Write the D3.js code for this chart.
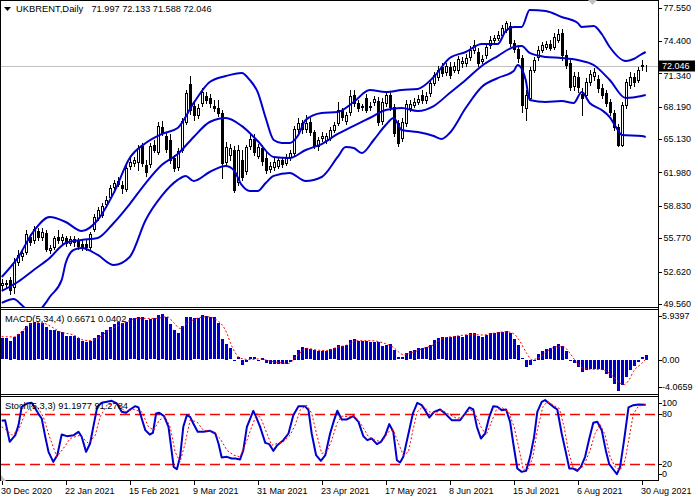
<!DOCTYPE html>
<html><head><meta charset="utf-8">
<script src="https://cdn.jsdelivr.net/npm/d3@7"></script>
<style>body{margin:0;background:#fff}svg{display:block}text{font-family:"Liberation Sans",Arial,sans-serif;fill:#000}</style>
</head><body>
<script>
// ---------- DATA ----------
const open = [51.36,51.45,51.83,51.17,53.53,54.09,54.47,55.89,55.60,56.45,
55.89,56.26,54.66,54.94,55.89,55.60,55.79,55.32,55.70,55.51,
55.23,55.23,54.94,56.64,57.68,57.96,59.00,59.66,60.61,60.89,
60.80,60.42,62.59,62.87,62.97,64.48,62.68,62.78,64.57,63.91,
66.27,65.42,65.04,63.34,62.49,64.10,66.74,70.33,68.25,67.40,
68.54,69.20,69.01,68.25,68.06,67.59,62.97,63.63,64.10,61.08,
63.15,62.12,64.48,65.14,63.53,64.29,63.34,62.31,62.49,62.59,
63.15,62.87,63.44,63.81,66.08,66.65,66.08,66.74,65.80,64.48,
65.23,65.04,65.23,65.99,66.65,67.87,66.84,67.69,69.29,68.54,
68.16,69.01,68.16,68.63,68.72,66.84,68.54,69.29,68.16,66.65,
65.23,66.65,68.06,68.35,68.63,69.29,68.82,69.48,70.42,70.99,
71.93,71.46,71.93,71.65,71.65,72.31,72.31,72.88,73.54,73.35,
72.50,73.07,74.01,74.48,74.67,74.95,75.43,75.80,74.20,73.63,
72.78,68.06,69.01,71.65,72.88,73.54,73.82,74.10,73.82,74.48,
75.14,73.07,72.31,70.14,70.99,69.39,69.29,70.52,71.08,70.80,
69.95,69.48,68.63,67.59,66.27,64.57,68.35,70.24,70.99,70.71,
72.03,71.997];
const high = [51.92,51.83,52.11,53.91,54.66,54.66,56.55,56.17,56.93,56.74,
56.74,56.55,55.13,55.98,56.55,56.17,55.98,55.98,55.98,55.79,
55.60,55.60,56.36,58.06,58.72,59.10,59.76,60.80,61.27,61.55,
61.17,62.68,63.34,63.44,64.57,64.76,63.15,64.76,65.04,66.74,
66.84,65.80,65.61,63.63,64.29,67.12,69.76,71.08,68.63,68.44,
69.95,69.57,69.39,68.82,68.82,67.87,64.85,64.66,64.48,64.57,
64.10,64.57,65.52,65.61,64.66,64.57,63.91,62.97,63.34,63.44,
63.44,63.72,64.10,66.37,67.12,66.93,67.40,67.12,65.99,65.33,
65.80,65.70,66.27,66.74,68.63,68.06,67.69,69.76,69.76,68.82,
68.44,69.39,68.63,69.20,69.10,69.01,69.57,69.57,68.44,66.93,
67.12,68.82,68.82,69.01,69.29,69.76,69.57,70.71,71.46,72.03,
72.31,72.31,72.41,72.41,72.97,72.88,73.16,73.92,74.48,73.73,
73.07,74.10,74.86,74.95,75.33,75.90,76.28,76.18,74.48,74.01,
73.07,69.76,71.93,72.88,73.92,74.29,74.39,74.48,75.14,75.52,
75.52,73.54,72.59,71.46,71.46,69.95,70.89,71.65,71.84,71.18,
70.33,69.76,68.91,67.87,66.55,68.63,70.80,71.46,71.37,71.93,
72.59,72.133];
const low = [50.89,51.08,50.51,50.60,53.25,53.72,54.28,55.13,55.32,55.60,
55.60,54.57,54.38,54.76,55.32,55.32,55.04,55.13,55.04,54.76,
54.66,54.66,54.76,56.45,57.49,57.77,58.72,59.47,60.32,60.70,
60.04,60.23,62.31,62.59,62.21,62.59,61.65,62.49,63.91,63.72,
65.52,63.91,62.87,62.12,62.21,63.91,66.55,67.50,66.93,67.12,
68.25,68.54,68.16,67.78,67.31,61.46,62.68,63.15,60.13,60.80,
61.27,61.83,64.19,63.63,63.34,62.68,61.93,62.02,62.21,62.40,
62.49,62.68,63.15,63.63,65.80,65.70,65.80,65.52,64.29,64.10,
64.95,64.76,65.04,65.80,66.46,66.93,66.55,67.40,68.25,67.78,
67.87,67.69,67.87,68.35,66.46,66.55,68.25,67.87,65.42,64.48,
64.95,66.37,67.78,68.16,68.44,68.54,68.54,69.20,70.24,70.71,
71.08,71.18,70.89,71.46,71.37,71.93,72.03,72.59,73.26,72.03,
72.31,72.78,73.73,74.29,74.48,74.77,75.24,73.92,73.35,72.41,
67.69,66.93,68.82,71.46,72.59,73.35,73.63,73.54,73.63,74.29,
72.59,71.84,69.76,69.76,69.57,67.40,69.01,70.24,70.71,69.57,
69.01,68.25,67.40,65.99,64.48,64.48,68.06,69.95,70.14,70.52,
71.65,71.588];
const close = [51.55,51.55,50.89,53.53,54.19,54.38,56.17,55.42,56.64,55.89,
56.36,54.76,54.85,55.79,55.60,55.89,55.32,55.70,55.42,55.04,
54.94,54.94,56.17,57.77,58.44,58.81,59.38,60.51,60.98,61.17,
60.51,62.40,62.97,63.15,64.29,62.87,62.02,64.48,64.10,66.37,
65.80,64.19,63.15,62.40,64.00,66.84,69.48,67.87,67.40,68.06,
69.57,68.82,68.54,68.06,67.59,62.87,64.38,64.29,60.32,64.10,
61.55,64.38,65.14,63.91,64.38,63.06,62.21,62.59,62.97,63.15,
62.78,63.34,63.81,66.08,66.65,66.08,66.65,65.80,64.48,65.04,
65.42,65.42,65.99,66.46,67.87,67.21,67.40,69.20,68.54,68.06,
68.25,67.87,68.25,68.91,66.74,68.63,69.29,68.16,65.70,64.76,
66.74,68.44,68.44,68.63,68.91,68.82,69.20,70.42,71.18,71.65,
71.37,72.03,71.18,72.03,72.69,72.50,72.78,73.54,74.01,72.31,
72.69,73.82,74.48,74.67,74.95,75.62,76.09,74.20,73.63,72.78,
68.35,69.29,71.65,72.59,73.54,74.01,74.10,73.73,74.77,75.05,
73.07,72.12,70.05,71.08,70.05,69.01,70.52,71.27,71.46,69.95,
69.29,68.54,67.69,66.27,64.57,68.35,70.52,70.99,70.52,71.65,
72.12,72.046];

// Bollinger bands (bar index, value)
const bbUpperIdx = [0,4,8,12,16,20,24,28,32,36, 40,44,48,52,56,60,62,64,66,68, 70,72,74,76,80,84,88,92,96,100, 104,108,112,116,120,124,126,128,130,132, 136,140,144,145,148,150,152,156,158,160, 161];
const bbUpper = [52.11,53.91,56.45,57.77,57.30,56.45,57.49,60.04,63.34,64.76, 65.61,66.18,68.54,70.52,71.08,71.37,70.71,69.57,67.12,65.04, 64.76,64.76,65.42,66.93,67.59,67.69,68.63,69.76,69.57,69.76, 69.86,70.99,72.78,73.35,74.10,74.10,75.33,75.71,75.71,77.31, 77.22,76.65,76.09,75.71,75.80,75.05,73.82,72.50,72.69,73.16, 73.35];
const bbMiddleIdx = [0,4,8,12,16,20,24,28,32,36, 40,44,48,52,56,60,64,68,72,76, 80,84,88,92,96,100,104,108,112,116, 120,124,128,130,132,136,140,144,148,152, 156,160,161];
const bbMiddle = [50.79,51.64,52.77,53.91,55.32,55.60,55.79,57.21,59.00,60.98, 62.68,63.72,65.33,66.74,67.12,66.37,64.95,63.44,63.34,64.10, 64.66,65.61,66.37,67.12,67.87,68.06,67.78,68.25,69.48,70.71, 72.03,72.97,73.82,73.92,73.26,72.88,72.78,72.59,72.12,70.71, 69.01,69.20,69.29];
const bbLowerIdx = [0,3,5,8,11,12,15,16,18,20, 24,28,32,36,40,44,46,48,52,56, 58,60,62,64,66,68,72,76,80,84, 86,88,90,93,96,98,100,104,108,110, 112,116,120,124,128,129,131,132,136,140, 143,145,147,150,152,154,155,160,161];
const bbLower = [49.66,50.03,49.47,48.52,49.66,50.22,51.83,53.43,54.66,54.85, 54.19,53.24,54.00,57.49,59.76,61.27,61.65,61.17,62.02,62.59, 62.21,60.80,60.23,60.23,60.98,61.65,61.93,61.17,61.55,63.44, 64.38,64.29,63.81,65.04,66.46,67.12,65.99,65.80,65.42,65.14, 65.70,68.06,70.05,70.89,71.56,72.12,70.71,68.82,68.63,68.72, 68.54,69.57,68.54,67.87,67.21,65.99,65.52,65.42,65.33];

// MACD(5,34,4) histogram per bar, signal line read points
const macd = [2.80,2.80,2.49,2.93,3.37,3.76,4.42,4.86,4.99,4.78,
4.86,4.25,3.89,3.96,3.76,3.67,3.10,3.10,3.10,2.80,
2.49,2.36,2.49,2.80,3.24,3.67,3.89,4.25,4.68,4.99,
4.86,4.99,5.43,5.43,5.65,5.57,5.21,5.30,5.43,5.87,
5.94,5.65,4.68,3.89,3.46,4.42,5.65,5.65,5.43,5.43,
5.87,5.74,5.57,5.57,4.78,2.67,2.05,1.49,-0.05,0.30,
-0.62,-0.20,0.30,0.30,0.00,0.20,-0.40,-0.50,-0.50,-0.50,
-0.50,-0.50,-0.20,0.60,1.26,1.70,1.49,1.35,1.26,1.18,
1.18,1.13,1.35,1.49,1.92,1.78,1.92,2.58,2.67,2.49,
2.49,2.49,2.36,2.36,2.36,1.78,1.92,2.05,1.26,0.31,
0.31,0.88,1.10,1.26,1.49,1.49,1.62,1.92,2.58,2.80,
2.93,3.02,3.02,3.10,3.10,3.02,3.24,3.46,3.55,3.10,
3.02,3.24,3.46,3.55,3.67,3.67,3.76,3.46,2.67,1.92,
0.17,-0.93,-0.71,-0.13,0.75,1.18,1.35,1.49,1.78,2.05,
1.78,1.10,-0.13,-0.40,-0.93,-1.59,-1.37,-1.15,-1.15,-1.15,
-1.28,-1.80,-2.33,-3.12,-4.0659,-3.34,-2.24,-1.37,-0.84,-0.27,
0.30,0.6671];
const macdSigIdx = [0,3,5.4,8,10.4,12.1,14.6,18,20.4,22.1, 24.6,26.3,28.8,31.3,33.8,36.3,38.8,41.3,43,44.6, 46.3,48.8,51.3,53.8,56.3,57.1,58.4,59.6,62.1,64.6, 67.1,69.6,71.7,73.8,76.3,78.8,81.3,83.8,86.3,88.8, 92.1,95.4,97.9,100.4,102.9,105.4,107.9,110.4,113.8,117.5, 120.4,123.8,126.3,128.4,129.6,131.3,132.5,134.2,136.3,138.8, 140.4,142.1,143.8,145.4,147.9,149.6,151.3,152.9,154.6,155.5, 156.8,157.9,160,161];
const macdSig = [3.02,3.0,3.9,4.86,4.8,4.42,3.67,3.24,2.58,2.49, 3.0,3.67,4.4,4.99,5.43,5.43,5.43,5.65,4.86,4.1, 4.78,5.43,5.65,5.2,3.46,2.3,0.9,0.2,0,0.1, -0.2,-0.4,-0.5,0.5,1.49,1.26,1.18,1.62,1.92,2.49, 2.49,2.2,1.62,0.66,0.97,1.49,1.92,2.8,3.1,3.3, 3.24,3.55,3.67,3.24,2.36,0.8,0,0.2,1.1,1.7, 1.7,0.8,-0.4,-1.15,-1.28,-1.28,-1.59,-2.24,-3.1,-3.3, -2.7,-1.59,-0.5,0.0402];

// Stochastic(5,3,3) read points
const stochIdx = [0,0.85,2,3.4,4.2,5,6.3,7.5,8.4,9.4, 10,10.9,11.7,12.9,13.9,15,16.3,18,19.2,20, 21.1,22.1,22.9,23.9,25,26.3,27.5,28.8,30,31.1, 32.1,33.4,34.2,35,35.9,37,37.8,38.6,39.4,40.6, 41.7,43,43.8,44.6,45.4,46.3,47.1,47.9,49,50.4, 52.1,53.4,54.2,55,56.3,57.5,58.4,59.6,60.4,61.3, 62.3,62.9,63.6,64.6,65.9,66.9,67.9,68.9,70.4,71.7, 72.9,74.2,75.8,76.7,77.5,78.6,79.8,80.9,82.1,83.1, 83.9,85,86.3,87.9,89.2,90.4,91.4,92.5,93.8,94.8, 95.9,96.9,97.9,98.8,99.6,100.4,101.7,102.8,103.9,105, 105.85,106.9,108.1,109.6,110.85,112.5,114.6,115.85,116.9,117.9, 118.8,119.8,120.85,121.9,122.9,123.9,125,126.1,127.1,127.9, 128.9,130,131.1,132.1,133.1,133.9,135,135.85,136.9,137.9, 138.9,140,141.1,141.9,142.9,143.9,144.8,145.85,146.9,147.9, 148.9,150,151.1,151.9,152.9,153.8,154.6,155.6,156.7,157.9, 159.2,161];
const stochMain = [71.8,72.6,46.6,54.6,66.6,88.6,92.6,93.4,86.6,78.6, 74.6,52.6,34.6,22.6,30.6,55.4,53.4,54.6,58.6,52.6, 34.6,44.6,64.6,88.6,93.4,94.6,95.8,92.6,82.6,81.4, 85.4,89.4,87.8,74.6,60.6,55.4,57.4,80.6,81.4,77.4, 64.6,16.6,13.8,28.6,64.6,78.6,76.6,68.6,58.6,58.6, 59.8,56.6,44.6,27.8,28.6,26.6,26.6,25.4,36.6,64.6, 76.6,83.8,76.6,64.6,45.4,43.8,35.8,42.6,48.6,56.6, 78.6,89.4,89.4,84.6,56.6,30.6,23.8,30.6,56.6,72.6, 83.8,73.4,73.4,77.4,70.6,53.4,48.6,50.6,43.8,46.6, 54.6,67.8,58.6,24.6,21.8,28.6,56.6,80.6,93.4,90.6, 84.6,75.8,82.6,85.4,80.6,72.6,72.6,80.6,87.8,85.4, 64.6,50.6,56.6,76.6,89.4,88.6,84.6,85.4,70.6,44.6, 14.6,10.6,11.8,28.6,52.6,82.6,94.6,96.6,92.6,88.6, 85.4,56.6,32.6,14.6,14.6,11.8,16.6,28.6,50.6,69.4, 70.6,60.6,34.6,19.8,13.4,7.8,16.6,48.6,87.8,90.6, 91.4,91.1977];
const stochSigIdx = [0,1.3,2.5,4.2,5.85,7.5,8.8,10.4,12.1,13.8, 15.4,17.1,19.6,21.7,23.4,24.6,26.3,28.8,30.85,33, 35,36.7,38,39.4,40.85,42.1,43.35,44.6,45.85,47.1, 48.8,50.4,52.9,54.6,56.3,58,59.6,61.3,62.5,63.8, 65,66.3,67.5,68.8,70.4,72.1,73.35,74.6,76.3,77.5, 78.8,80,81.3,82.5,83.8,85,86.7,88.35,90,91.7, 93.35,95,96.7,97.9,99.2,100.4,101.7,102.8,103.9,105.4, 106.9,108.35,110,111.7,113.8,115.4,117.1,118.35,119.8,121.1, 122.3,123.6,125,126.7,128.1,129.4,130.4,131.7,132.8,133.9, 135.3,136.4,137.9,139.4,140.6,141.7,142.8,144.2,145.6,147.1, 148.35,149.6,150.85,152.1,153.35,154.6,155.85,156.9,157.9,159.2, 161];
const stochSig = [64.6,60.6,54.6,60.6,80.6,89.4,89.4,76.6,50.6,28.6, 38.6,50.6,54.6,44.6,54.6,76.6,90.6,93.4,82.6,85.4, 82.6,64.6,60.6,72.6,76.6,64.6,34.6,22.6,44.6,72.6, 70.6,60.6,58.6,50.6,36.6,30.6,28.6,48.6,64.6,80.6, 72.6,56.6,42.6,44.6,46.6,54.6,66.6,84.6,90.6,80.6, 54.6,32.6,34.6,48.6,68.6,77.4,76.6,77.4,66.6,52.6, 48.6,46.6,58.6,60.6,44.6,30.6,34.6,60.6,82.6,89.4, 82.6,81.4,84.6,80,74.6,76.6,85.4,80.6,64.6,54.6, 68.6,84.6,87.8,82.6,64.6,36.6,12.6,14.6,28.6,60.6, 88.6,94.6,90.6,86.6,64.6,34.6,16.6,12.6,18.6,36.6, 56.6,67.8,54.6,28.6,16.6,12.6,24.6,52.6,80,89.4, 91.2784];
const stochLevels = [80,20];

// axis ticks and labels
const priceTicks = [77.55,74.40,71.34,68.19,65.13,61.98,58.83,55.77,52.62,49.56];
const macdTicks = [5.9397,0,-4.0659];
const macdTickLabels = ["5.9397","0.00","-4.0659"];
const stochTicks = [100,80,20,0];
const dateTickIdx = [0,16,32,48,64,80,96,112,128,144,160];
const dateLabels = ["30 Dec 2020","22 Jan 2021","15 Feb 2021","9 Mar 2021","31 Mar 2021","23 Apr 2021","17 May 2021","8 Jun 2021","15 Jul 2021","6 Aug 2021","30 Aug 2021"];
const symbol = "UKBRENT,Daily";
const ohlcText = "71.997 72.133 71.588 72.046";
const macdTitle = "MACD(5,34,4) 0.6671 0.0402";
const stochTitle = "Stoch(5,3,3) 91.1977 91.2784";

// ---------- DRAW ----------
const W=698, H=500, RX=658;
const BLUE="#0000CD", RED="#FF0000";
const P = {main:[0,307], macd:[309,394], stoch:[396,481]};
const svg = d3.select("body").append("svg").attr("width",W).attr("height",H);
svg.append("rect").attr("width",W).attr("height",H).attr("fill","#fff");

const x = d3.scaleLinear().domain([0,160]).range([1.7,641.7]);
const yP = d3.scaleLinear().domain([49.56,77.55]).range([304,7.5]);
const yM = d3.scaleLinear().domain([-4.0659,5.9397]).range([390.5,314.5]);
const yS = d3.scaleLinear().domain([0,100]).range([480.7,397.3]);
const px = i => Math.round(x(i));

const defs = svg.append("defs");
Object.entries(P).forEach(([k,[t,b]])=>{
  defs.append("clipPath").attr("id","clip-"+k).append("rect")
    .attr("x",1).attr("y",t+1).attr("width",RX-1).attr("height",b-t-1);
});

// ---- main panel ----
const gM = svg.append("g").attr("clip-path","url(#clip-main)");
const lastClose = close[close.length-1];
gM.append("line").attr("x1",0).attr("x2",RX)
  .attr("y1",Math.round(yP(lastClose))+0.5).attr("y2",Math.round(yP(lastClose))+0.5)
  .attr("stroke","#c0c0c0").attr("stroke-width",1);

const idx = d3.range(open.length);
gM.append("g").selectAll("line").data(idx).join("line")
  .attr("x1",i=>px(i)+0.5).attr("x2",i=>px(i)+0.5)
  .attr("y1",i=>Math.round(yP(high[i]))).attr("y2",i=>Math.round(yP(low[i]))+1)
  .attr("stroke","#000").attr("stroke-width",1);
gM.append("g").selectAll("rect").data(idx).join("rect")
  .each(function(i){
    const up = close[i]>=open[i];
    const t = Math.round(yP(Math.max(open[i],close[i])));
    const b = Math.round(yP(Math.min(open[i],close[i])));
    const s = d3.select(this);
    if(up){
      s.attr("x",px(i)-0.5).attr("width",2).attr("y",t+0.5).attr("height",Math.max(0,b-t))
       .attr("fill","#fff").attr("stroke","#000").attr("stroke-width",1);
    } else {
      s.attr("x",px(i)-1).attr("width",3).attr("y",t).attr("height",Math.max(1,b-t+1))
       .attr("fill","#000");
    }
  });

const bandLine = d3.line().x(d=>x(d[0])).y(d=>yP(d[1])).curve(d3.curveMonotoneX);
[[bbUpperIdx,bbUpper],[bbMiddleIdx,bbMiddle],[bbLowerIdx,bbLower]].forEach(([ix,v])=>{
  gM.append("path").attr("d",bandLine(d3.zip(ix,v))).attr("fill","none")
    .attr("stroke",BLUE).attr("stroke-width",2).attr("stroke-linejoin","round");
});

// ---- MACD panel ----
const gD = svg.append("g").attr("clip-path","url(#clip-macd)");
const y0 = yM(0);
gD.append("g").selectAll("rect").data(macd).join("rect")
  .attr("x",(d,i)=>px(i)-1).attr("width",3)
  .attr("y",d=>Math.round(Math.min(yM(d),y0)))
  .attr("height",d=>Math.max(1,Math.round(Math.abs(yM(d)-y0))))
  .attr("fill",BLUE);
gD.append("path").attr("d",d3.line().x(d=>x(d[0])).y(d=>yM(d[1])).curve(d3.curveMonotoneX)(d3.zip(macdSigIdx,macdSig)))
  .attr("fill","none").attr("stroke",RED).attr("stroke-width",1).attr("stroke-dasharray","2,2");

// ---- Stochastic panel ----
const gS = svg.append("g").attr("clip-path","url(#clip-stoch)");
gS.selectAll("line.lvl").data(stochLevels).join("line")
  .attr("x1",0).attr("x2",RX).attr("y1",d=>Math.round(yS(d))+0.5).attr("y2",d=>Math.round(yS(d))+0.5)
  .attr("stroke",RED).attr("stroke-width",1.3).attr("stroke-dasharray","10,5");
const stLine = d3.line().x(d=>x(d[0])).y(d=>yS(d[1]));
gS.append("path").attr("d",stLine(d3.zip(stochIdx,stochMain)))
  .attr("fill","none").attr("stroke",BLUE).attr("stroke-width",2).attr("stroke-linejoin","round");
gS.append("path").attr("d",stLine(d3.zip(stochSigIdx,stochSig)))
  .attr("fill","none").attr("stroke",RED).attr("stroke-width",1).attr("stroke-dasharray","2,2");

// ---- frames ----
const fr = svg.append("g").attr("stroke","#000").attr("stroke-width",1);
fr.append("line").attr("x1",0).attr("x2",RX+1).attr("y1",0.5).attr("y2",0.5);
fr.append("line").attr("x1",0.5).attr("x2",0.5).attr("y1",0).attr("y2",481);
fr.append("line").attr("x1",RX+0.5).attr("x2",RX+0.5).attr("y1",0).attr("y2",481);
[307.5,309.5,394.5,396.5,480.5].forEach(y=>fr.append("line").attr("x1",0).attr("x2",RX+1).attr("y1",y).attr("y2",y));

// ---- right axes ----
const yc = yP(close[close.length-1]);
function rightAxis(scale, ticks, labels, top, bottom, pad, lx, avoid){
  const g = svg.append("g").attr("font-size",9);
  ticks.forEach((v,k)=>{
    let yy = Math.max(top+pad, Math.min(bottom-pad, scale(v)));
    g.append("line").attr("x1",RX+1).attr("x2",RX+4).attr("y1",Math.round(yy)+0.5).attr("y2",Math.round(yy)+0.5)
      .attr("stroke","#000");
    if (avoid!=null && Math.abs(yy-avoid)<10) yy = yy>avoid ? avoid+10 : avoid-10;
    g.append("text").attr("x",lx).attr("y",yy).attr("dy","0.35em").text(labels[k]);
  });
}
rightAxis(yP, priceTicks, priceTicks.map(d3.format(".3f")), 0, 307, 3, 663.5, yc);
rightAxis(yM, macdTicks, macdTickLabels, 309, 394, 7, 662, null);
rightAxis(yS, stochTicks, stochTicks.map(String), 396, 481, 7, 662, null);

// current price box
svg.append("rect").attr("x",659).attr("y",Math.round(yc)-5.5).attr("width",36).attr("height",11).attr("fill","#000");
svg.append("text").attr("x",662).attr("y",yc).attr("dy","0.35em").attr("font-size",9).style("fill","#fff").text(d3.format(".3f")(close[close.length-1]));

// ---- date axis ----
const gx = svg.append("g").attr("font-size",9);
dateTickIdx.forEach((t,k)=>{
  gx.append("line").attr("x1",px(t)+0.5).attr("x2",px(t)+0.5).attr("y1",481).attr("y2",485).attr("stroke","#000");
  gx.append("text").attr("x",px(t)-1).attr("y",494).text(dateLabels[k]);
});

// ---- titles / markers ----
svg.append("path").attr("d","M4,7 L11,7 L7.5,11 Z").attr("fill","#000");
svg.append("text").attr("x",16).attr("y",12).attr("font-size",9.4).text(symbol);
svg.append("text").attr("x",91.5).attr("y",12).attr("font-size",9.2).text(ohlcText);
svg.append("text").attr("x",5).attr("y",322).attr("font-size",9.3).text(macdTitle);
svg.append("text").attr("x",5).attr("y",409).attr("font-size",9.3).text(stochTitle);
svg.append("path").attr("d","M588,0 L597,0 L592.5,5 Z").attr("fill","#c0c0c0");
svg.append("path").attr("d","M1,475 L1,481 L6,481 Z").attr("fill","#c0c0c0");
</script>
</body></html>
